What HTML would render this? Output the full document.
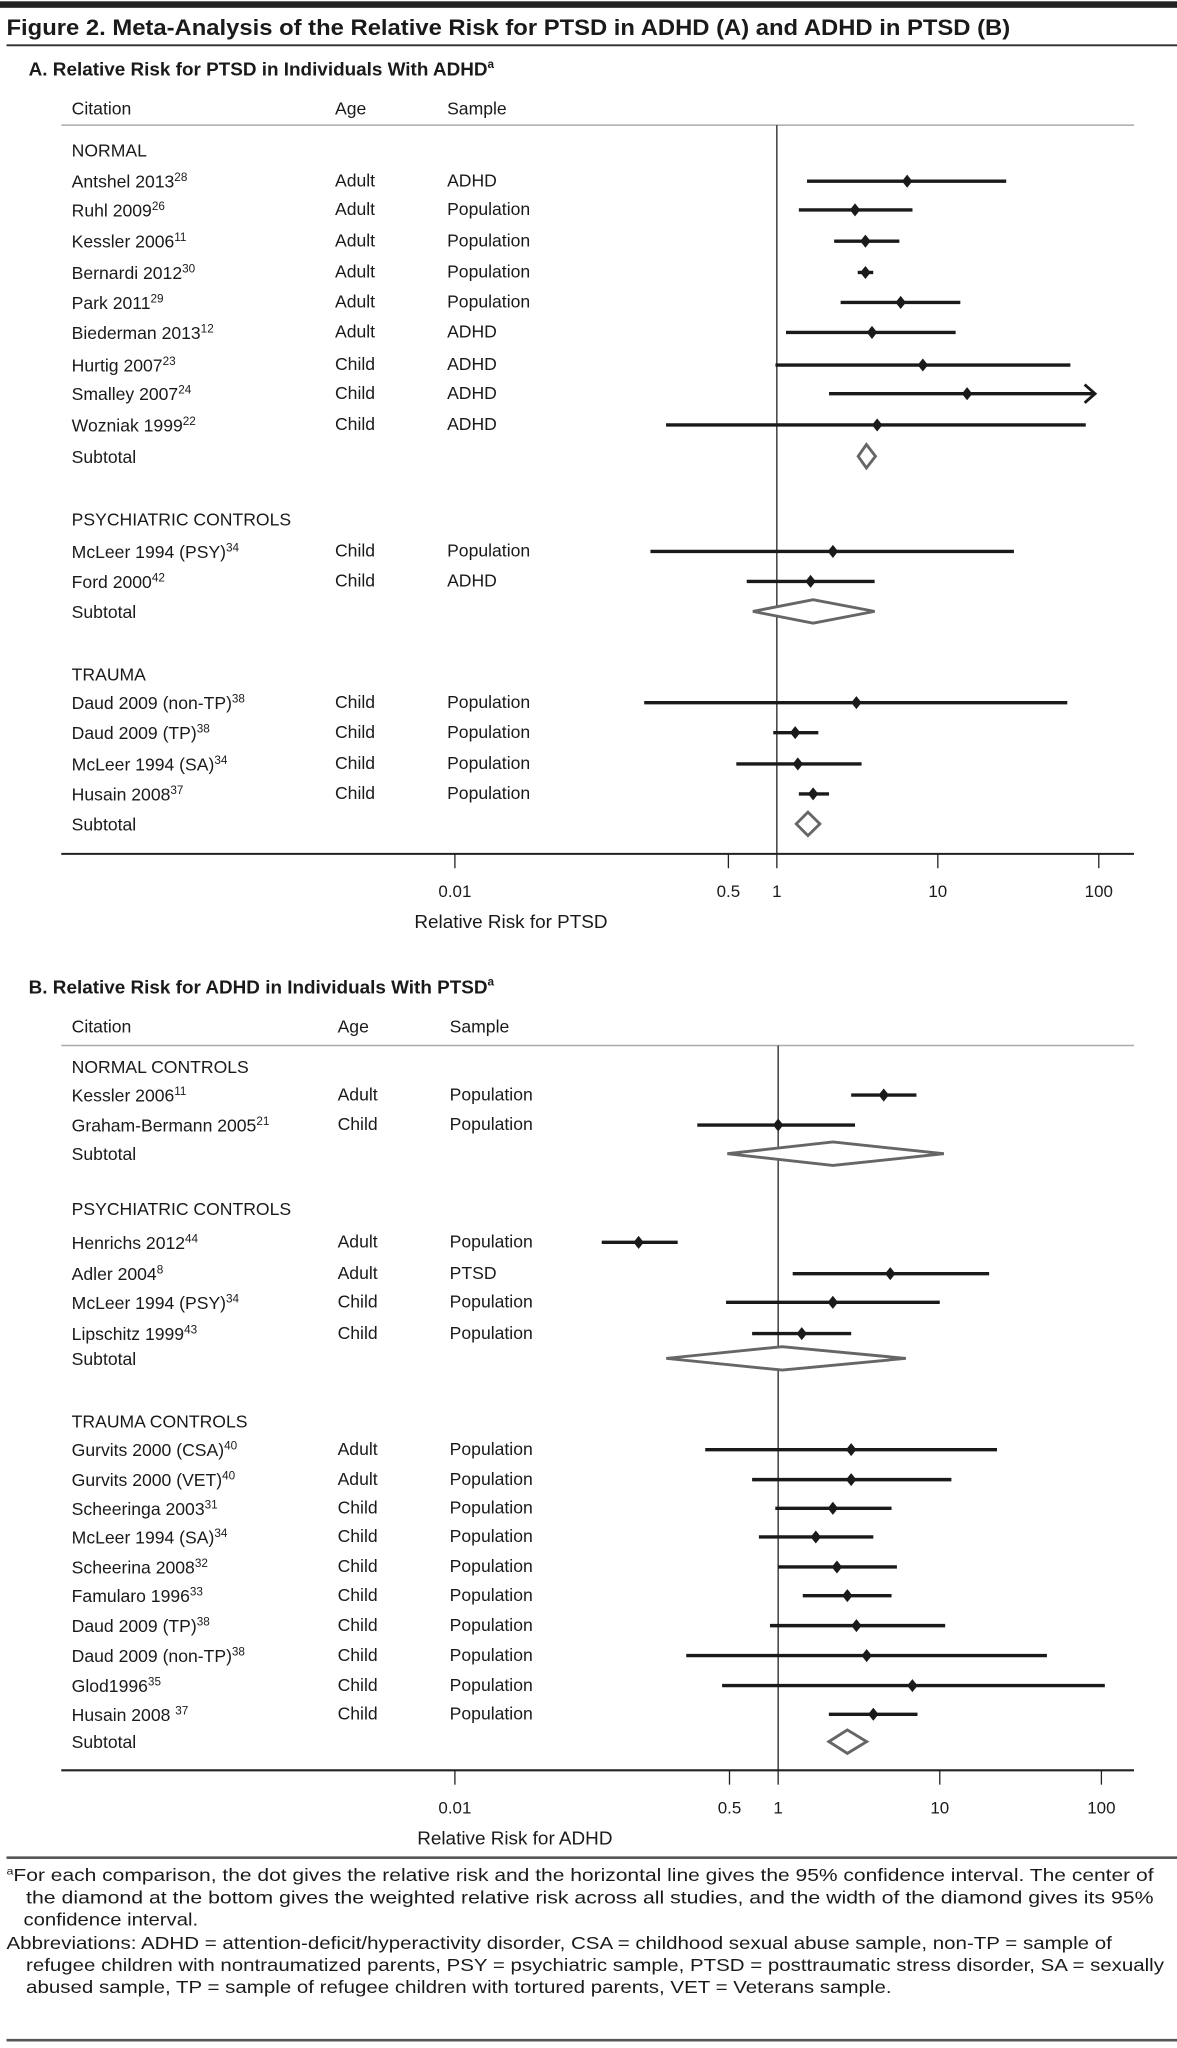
<!DOCTYPE html>
<html><head><meta charset="utf-8"><style>
html,body{margin:0;padding:0;background:#fff}
svg{display:block}
text{font-family:"Liberation Sans",sans-serif;fill:#1a1a1a}
</style></head><body>
<svg id="fig" width="1177" height="2048" viewBox="0 0 903 1571" preserveAspectRatio="none" xmlns="http://www.w3.org/2000/svg">
<rect x="0" y="1" width="903" height="5" fill="#222"/>
<text x="5" y="27" font-size="17" font-weight="bold" textLength="770" lengthAdjust="spacingAndGlyphs">Figure 2. Meta-Analysis of the Relative Risk for PTSD in ADHD (A) and ADHD in PTSD (B)</text>
<rect x="5" y="34" width="898" height="1.5" fill="#333"/>
<g id="pa"></g>
<g id="pb"></g>
<rect x="5" y="1424" width="898" height="2" fill="#555"/>
<g font-size="13.5">
<text x="5" y="1443" font-size="13.5" textLength="880" lengthAdjust="spacingAndGlyphs"><tspan font-size="8" dy="-5">a</tspan><tspan dy="5">For each comparison, the dot gives the relative risk and the horizontal line gives the 95% confidence interval. The center of</tspan></text>
<text x="20" y="1460" font-size="13.5" textLength="865" lengthAdjust="spacingAndGlyphs">the diamond at the bottom gives the weighted relative risk across all studies, and the width of the diamond gives its 95%</text>
<text x="18" y="1477" font-size="13.5" textLength="134" lengthAdjust="spacingAndGlyphs">confidence interval.</text>
<text x="5" y="1495" font-size="13.5" textLength="848" lengthAdjust="spacingAndGlyphs">Abbreviations: ADHD = attention-deficit/hyperactivity disorder, CSA = childhood sexual abuse sample, non-TP = sample of</text>
<text x="20" y="1512" font-size="13.5" textLength="873" lengthAdjust="spacingAndGlyphs">refugee children with nontraumatized parents, PSY = psychiatric sample, PTSD = posttraumatic stress disorder, SA = sexually</text>
<text x="20" y="1529" font-size="13.5" textLength="664" lengthAdjust="spacingAndGlyphs">abused sample, TP = sample of refugee children with tortured parents, VET = Veterans sample.</text>
</g>
<rect x="5" y="1564" width="898" height="2" fill="#555"/>
</svg>
<script>
// ---- Panel A data ----
const aLabels = ["NORMAL","Antshel 2013|28","Ruhl 2009|26","Kessler 2006|11","Bernardi 2012|30","Park 2011|29","Biederman 2013|12","Hurtig 2007|23","Smalley 2007|24","Wozniak 1999|22","Subtotal","PSYCHIATRIC CONTROLS","McLeer 1994 (PSY)|34","Ford 2000|42","Subtotal","TRAUMA","Daud 2009 (non-TP)|38","Daud 2009 (TP)|38","McLeer 1994 (SA)|34","Husain 2008|37","Subtotal"];
const aAge = ["","Adult","Adult","Adult","Adult","Adult","Adult","Child","Child","Child","","","Child","Child","","","Child","Child","Child","Child",""];
const aSample = ["","ADHD","Population","Population","Population","Population","ADHD","ADHD","ADHD","ADHD","","","Population","ADHD","","","Population","Population","Population","Population",""];
const aEst = [null,6.45,3.06,3.55,3.55,5.88,3.9,8.07,15.2,4.2,3.6,null,2.23,1.62,1.68,null,3.12,1.3,1.35,1.68,1.56];
const aLo  = [null,1.54,1.37,2.27,3.18,2.49,1.14,0.98,2.11,0.205,3.2,null,0.164,0.65,0.71,null,0.15,0.95,0.56,1.37,1.32];
const aHi  = [null,26.6,6.96,5.77,3.97,13.8,12.9,66.6,94.8,83,4.1,null,29.7,4.05,4.05,null,63.7,1.81,3.36,2.11,1.85];
const aRowY = [115,139,161,185,209,232,255,280,302,326,350,398,423,446,469,517,539,562,586,609,632];
// ---- Panel B data ----
const bLabels = ["NORMAL CONTROLS","Kessler 2006|11","Graham-Bermann 2005|21","Subtotal","PSYCHIATRIC CONTROLS","Henrichs 2012|44","Adler 2004|8","McLeer 1994 (PSY)|34","Lipschitz 1999|43","Subtotal","TRAUMA CONTROLS","Gurvits 2000 (CSA)|40","Gurvits 2000 (VET)|40","Scheeringa 2003|31","McLeer 1994 (SA)|34","Scheerina 2008|32","Famularo 1996|33","Daud 2009 (TP)|38","Daud 2009 (non-TP)|38","Glod1996|35","Husain 2008 |37","Subtotal"];
const bAge = ["","Adult","Child","","","Adult","Adult","Child","Child","","","Adult","Adult","Child","Child","Child","Child","Child","Child","Child","Child",""];
const bSample = ["","Population","Population","","","Population","PTSD","Population","Population","","","Population","Population","Population","Population","Population","Population","Population","Population","Population","Population",""];
const bEst = [null,4.5,1.0,2.18,null,0.137,4.94,2.18,1.4,1.06,null,2.83,2.83,2.18,1.71,2.31,2.68,3.05,3.53,6.77,3.88,2.68];
const bLo  = [null,2.83,0.316,0.485,null,0.081,1.23,0.476,0.69,0.203,null,0.354,0.69,0.96,0.76,1.0,1.42,0.89,0.27,0.45,2.06,2.06];
const bHi  = [null,7.17,2.99,10.6,null,0.239,20.2,10,2.83,6.17,null,22.6,11.8,5.03,3.88,5.43,5.03,10.8,46,105,7.28,3.53];
const bRowY = [818,840,863,885,927,953,977,999,1023,1042,1090,1112,1135,1157,1179,1202,1224,1247,1270,1293,1315,1336];
const tickVals = [0.01,0.5,1,10,100];
const tickLabels = ["0.01","0.5","1","10","100"];

const NS="http://www.w3.org/2000/svg";
function mk(tag,attrs,parent){const e=document.createElementNS(NS,tag);for(const k in attrs)e.setAttribute(k,attrs[k]);parent.appendChild(e);return e;}

function drawPanel(g,cfg){
  const x = v => cfg.x0 + Math.log10(v)*cfg.dec;
  let t=mk('text',{x:22,y:cfg.titleY,'font-size':14.5,'font-weight':'bold'},g);
  
  
  t.textContent=cfg.title;
  const sup=mk('tspan',{'font-size':9,dy:-6},t);sup.textContent='a';
  const hdr=[["Citation",55],["Age",cfg.ageX],["Sample",cfg.sampleX]];
  hdr.forEach(h=>{const e=mk('text',{x:h[1],y:cfg.hdrY,'font-size':13.5},g);
    
    
    e.textContent=h[0];});
  let l=mk('line',{x1:47,x2:870,y1:cfg.sepY,y2:cfg.sepY,stroke:'#aaa','stroke-width':1.2},g);
  
  
  l=mk('line',{x1:x(1),x2:x(1),y1:cfg.sepY,y2:cfg.axisY,stroke:'#222','stroke-width':1},g);
  
  
  l=mk('line',{x1:47,x2:870,y1:cfg.axisY,y2:cfg.axisY,stroke:'#222','stroke-width':1.6},g);
  
  
  tickVals.forEach((v,i)=>{
    const tk=mk('line',{x1:x(v),x2:x(v),y1:cfg.axisY,y2:cfg.axisY+11,stroke:'#222','stroke-width':1},g);
    
    
    const tl=mk('text',{x:x(v),y:cfg.axisY+33,'font-size':13,'text-anchor':'middle'},g);
    
    
    tl.textContent=tickLabels[i];
  });
  t=mk('text',{x:cfg.axTitleX,y:cfg.axisY+57,'font-size':14.5,'text-anchor':'middle'},g);
  
  
  t.textContent=cfg.axTitle;
  cfg.labels.forEach((lab,i)=>{
    const y=cfg.rowY[i];
    const parts=lab.split('|');
    const txt=mk('text',{x:55,y:y+5,'font-size':13.5},g);
    
    
    const s1=mk('tspan',{},txt);s1.textContent=parts[0];
    if(parts[1]){const s2=mk('tspan',{'font-size':9,dy:-5},txt);s2.textContent=parts[1];}
    if(cfg.age[i]){const a=mk('text',{x:cfg.ageX,y:y+4,'font-size':13.5},g);
      
      
      a.textContent=cfg.age[i];}
    if(cfg.sample[i]){const s=mk('text',{x:cfg.sampleX,y:y+4,'font-size':13.5},g);
      
      
      s.textContent=cfg.sample[i];}
    if(cfg.est[i]==null)return;
    const xl=x(cfg.lo[i]),xh=x(cfg.hi[i]),xe=x(cfg.est[i]);
    if(parts[0]==='Subtotal'){
      const d=mk('polygon',{points:`${xl},${y} ${xe},${y-9} ${xh},${y} ${xe},${y+9}`,fill:'#fff',stroke:'#666','stroke-width':2.2},g);
      
      
    } else {
      const ci=mk('line',{x1:xl,x2:xh,y1:y,y2:y,stroke:'#1a1a1a','stroke-width':2.6},g);
      
      
      if(cfg.arrow && cfg.arrow[i]){
        const ar=mk('polyline',{points:`${xh-8},${y-7} ${xh},${y} ${xh-8},${y+7}`,fill:'none',stroke:'#1a1a1a','stroke-width':2.2},g);
        
        
      }
      const p=mk('polygon',{points:`${xe-4},${y} ${xe},${y-5} ${xe+4},${y} ${xe},${y+5}`,fill:'#1a1a1a'},g);
      
      
    }
  });
}
const aArrow=aLabels.map(l=>l.startsWith('Smalley'));
drawPanel(document.getElementById('pa'),{title:'A. Relative Risk for PTSD in Individuals With ADHD',titleY:58,hdrY:88,sepY:96,axisY:655,x0:596,dec:123.5,ageX:257,sampleX:343,axTitle:'Relative Risk for PTSD',axTitleX:392,labels:aLabels,age:aAge,sample:aSample,est:aEst,lo:aLo,hi:aHi,rowY:aRowY,arrow:aArrow});
drawPanel(document.getElementById('pb'),{title:'B. Relative Risk for ADHD in Individuals With PTSD',titleY:762,hdrY:792,sepY:802,axisY:1358,x0:597,dec:124,ageX:259,sampleX:345,axTitle:'Relative Risk for ADHD',axTitleX:395,labels:bLabels,age:bAge,sample:bSample,est:bEst,lo:bLo,hi:bHi,rowY:bRowY});
</script>
</body></html>
